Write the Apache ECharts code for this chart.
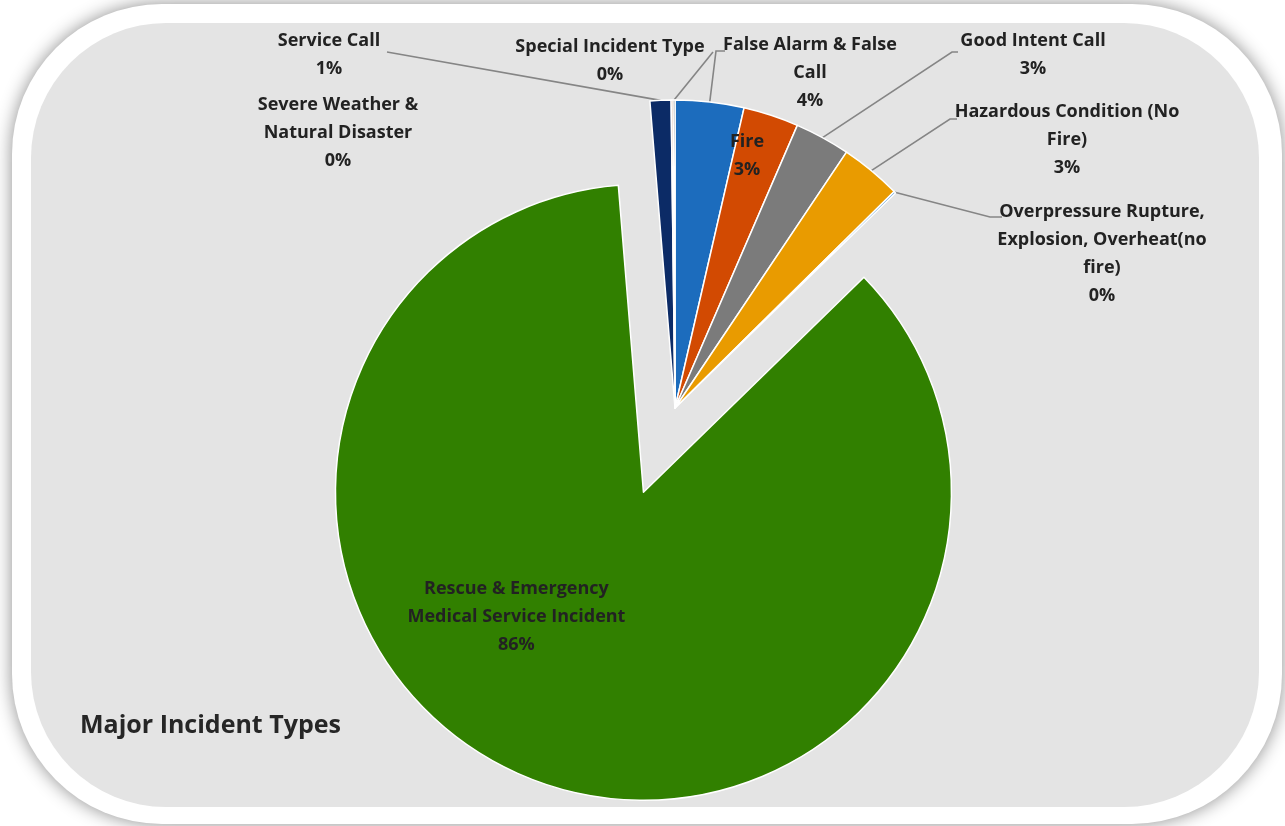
<!DOCTYPE html>
<html>
<head>
<meta charset="utf-8">
<script src="https://cdn.jsdelivr.net/npm/echarts@6/dist/echarts.min.js"></script>
<style>
  html, body { margin: 0; padding: 0; background: #ffffff; }
  #chart { width: 1285px; height: 826px; }
</style>
</head>
<body>
<div id="chart"></div>
<script>
// Incident categories (clockwise from 12 o'clock) and their share of all incidents, in percent
const categories = [
  'False Alarm & False Call',
  'Fire',
  'Good Intent Call',
  'Hazardous Condition (No Fire)',
  'Overpressure Rupture, Explosion, Overheat(no fire)',
  'Rescue & Emergency Medical Service Incident',
  'Service Call',
  'Severe Weather & Natural Disaster',
  'Special Incident Type'
];
const shares = [3.6, 2.9, 2.9, 3.2, 0.1, 86.0, 1.1, 0.1, 0.1];

// How each category name wraps in its label
const labelLines = [
  'False Alarm & False\nCall',
  'Fire',
  'Good Intent Call',
  'Hazardous Condition (No\nFire)',
  'Overpressure Rupture,\nExplosion, Overheat(no\nfire)',
  'Rescue & Emergency\nMedical Service Incident',
  'Service Call',
  'Severe Weather &\nNatural Disaster',
  'Special Incident Type'
];

const sliceColors = ['#1c6cbd', '#d24a02', '#7b7b7b', '#e99b00', '#5b9bd5', '#318000', '#0c2b66', '#9e480e', '#636363'];

// Label block centres and leader-line elbows (null = label without a leader line).
// The pulled-out slice keeps its inside label, nudged by an offset instead.
const labelPlacement = {
  0: { x: 810, y: 73, line: [[716, 51], [725, 51]] },
  1: { x: 747, y: 156, line: null, inside: true },
  2: { x: 1033, y: 55, line: [[952, 52], [958, 52]] },
  3: { x: 1067, y: 140, line: [[950, 119], [957, 119]] },
  4: { x: 1102, y: 254, line: [[990, 217], [1002, 217]] },
  5: { offset: [-72, -22], line: null, inside: true },
  6: { x: 329, y: 55, line: [[387, 52], [387, 52]] },
  7: { x: 338, y: 133, line: null },
  8: { x: 610, y: 61, line: [[713, 52], [713, 52]] }
};

const FONT = '"Open Sans", Lato, "DejaVu Sans", sans-serif';
const total = shares.reduce((a, b) => a + b, 0);

const data = categories.map((name, i) => {
  const place = labelPlacement[i];
  const item = {
    name: name,
    value: shares[i],
    itemStyle: { color: sliceColors[i] },
    label: { position: place.inside ? 'inside' : 'outside' },
    labelLine: { show: place.line !== null }
  };
  if (place.offset) item.label.offset = place.offset;
  if (i === 5) {
    // the dominant slice is pulled away from the centre
    item.selected = true;
    item.select = {
      itemStyle: { color: sliceColors[i], borderColor: '#ffffff', borderWidth: 1.5 },
      label: { offset: place.offset }
    };
  }
  return item;
});

const chart = echarts.init(document.getElementById('chart'), null, { renderer: 'canvas' });

chart.setOption({
  animation: false,
  backgroundColor: '#ffffff',
  graphic: [
    {
      type: 'rect', z: -10, silent: true,
      shape: { x: 12, y: 4, width: 1270, height: 820, r: 150 },
      style: { fill: '#ffffff', shadowBlur: 18, shadowColor: 'rgba(0,0,0,0.45)' }
    },
    {
      type: 'rect', z: -9, silent: true,
      shape: { x: 31, y: 23, width: 1228, height: 784, r: 135 },
      style: { fill: '#e4e4e4' }
    }
  ],
  title: {
    text: 'Major Incident Types',
    left: 75, top: 708,
    textStyle: { fontFamily: FONT, fontSize: 25, fontWeight: 'bold', color: '#262626' }
  },
  series: [{
    type: 'pie',
    center: [675, 408],
    radius: [0, 308],
    startAngle: 90,
    clockwise: true,
    selectedMode: 'single',
    selectedOffset: 90,
    avoidLabelOverlap: false,
    emphasis: { disabled: true },
    itemStyle: { borderColor: '#ffffff', borderWidth: 1.5 },
    label: {
      show: true,
      fontFamily: FONT,
      fontSize: 18,
      fontWeight: 'bold',
      color: '#222222',
      lineHeight: 28,
      align: 'center',
      formatter: p => labelLines[p.dataIndex] + '\n' + Math.round(p.value / total * 100) + '%'
    },
    labelLine: { lineStyle: { color: '#858585', width: 1.6 }, length: 10, length2: 10 },
    labelLayout: params => {
      const place = labelPlacement[params.dataIndex];
      if (place.x === undefined) return undefined;
      const out = { x: place.x, y: place.y, align: 'center', verticalAlign: 'middle' };
      if (place.line && params.labelLinePoints) {
        out.labelLinePoints = [params.labelLinePoints[0], place.line[0], place.line[1]];
      }
      return out;
    },
    data: data
  }]
});
</script>
</body>
</html>
